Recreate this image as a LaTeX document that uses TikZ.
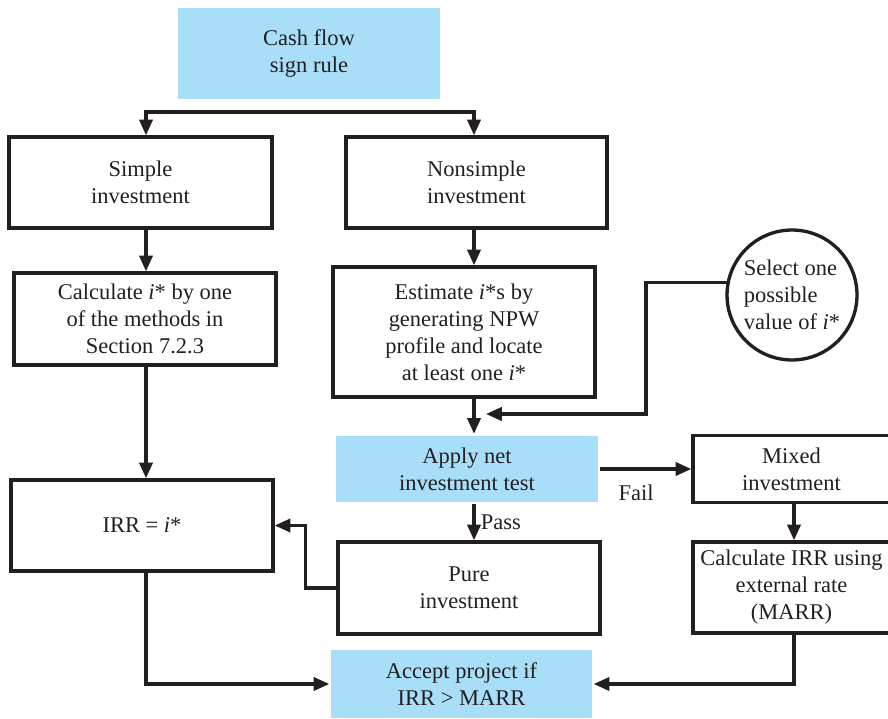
\documentclass[tikz,border=0pt]{standalone}
\usepackage{fontspec}
\setmainfont{Liberation Serif}
\usetikzlibrary{arrows.meta, positioning, calc}
\definecolor{flb}{HTML}{A8DEF8}
\definecolor{ink}{HTML}{231F20}

\begin{document}
\begin{tikzpicture}[x=0.02cm, y=-0.02cm, >={Triangle[length=9pt, width=7.5pt]},
          line width=1.9pt, color=ink,
          font=\fontsize{12.8}{15.4}\selectfont,
          box/.style={draw, line width=1.9pt, align=center, inner sep=0pt},
          tint/.style={fill=flb, align=center, inner sep=0pt}]
        \useasboundingbox (0,0) rectangle (888,719);
        % columns of the arrows
        \coordinate (lc) at (146,0);
        \coordinate (mc) at (474,0);
        \coordinate (rc) at (794,0);
        \node[tint, minimum width=5.24cm, minimum height=1.82cm] (cf)
              at (309,53.5) {Cash flow\\sign rule};
        \node[box, minimum width=5.26cm, minimum height=1.82cm] (simple)
              at (140.5,182.5) {Simple\\investment};
        \node[box, minimum width=5.22cm, minimum height=1.82cm] (nonsimple)
              at (476.5,182.5) {Nonsimple\\investment};
        \node[box, minimum width=5.24cm, minimum height=1.84cm] (calc)
              at (145,319) {Calculate \emph{i}* by one\\of the methods in\\Section 7.2.3};
        \node[box, minimum width=5.24cm, minimum height=2.6cm] (est)
              at (464,332) {Estimate \emph{i}*s by\\generating NPW\\profile and locate\\at least one \emph{i}*};
        \node[box, circle, align=left, minimum size=2.6cm] (sel)
              at (792,295) {Select one\\possible\\value of \emph{i}*};
        \node[tint, minimum width=5.24cm, minimum height=1.34cm] (apply)
              at (467,469) {Apply net\\investment test};
        \node[box, minimum width=5.24cm, minimum height=1.82cm] (irr)
              at (142,525.5) {IRR = \emph{i}*};
        \node[box, minimum width=5.24cm, minimum height=1.84cm] (pure)
              at (469,588) {Pure\\investment};
        \node[box, minimum width=3.94cm, minimum height=1.34cm] (mixed)
              at (791.5,469) {Mixed\\investment};
        \node[box, minimum width=3.94cm, minimum height=1.82cm] (ext)
              at (791.5,587.5) {Calculate IRR using\\external rate\\(MARR)};
        \node[tint, minimum width=5.22cm, minimum height=1.36cm] (accept)
              at (461.5,684) {Accept project if\\IRR > MARR};
        % connectors
        \coordinate (split) at (309,112);
        \draw[->] (split) -| (simple.north -| lc);
        \draw[->] (split) -| (nonsimple.north -| mc);
        \draw[->] (simple.south -| lc) -- (calc.north -| lc);
        \draw[->] (calc.south -| lc) -- (irr.north -| lc);
        \draw[->] (nonsimple.south -| mc) -- (est.north -| mc);
        \draw[->] (est.south -| mc) -- (apply.north -| mc);
        \coordinate (bend) at (646,414);
        \coordinate (join) at (486,414);
        \draw[->] (sel.169) -| (bend) -- (join);
        \draw[->] (apply.east) -- (apply.east -| mixed.west);
        \node (fail) at (636,493) {Fail};
        \draw[->] (apply.south -| mc) -- (pure.north -| mc)
              node[midway, right, inner sep=3pt] (pass) {Pass};
        \draw[->] (pure.west) -- ++(-31,0) |- (irr.east);
        \draw[->] (mixed.south -| rc) -- (ext.north -| rc);
        \draw[->] (irr.south -| lc) |- (accept.west);
        \draw[->] (ext.south -| rc) |- (accept.east);
      \end{tikzpicture}
\end{document}
